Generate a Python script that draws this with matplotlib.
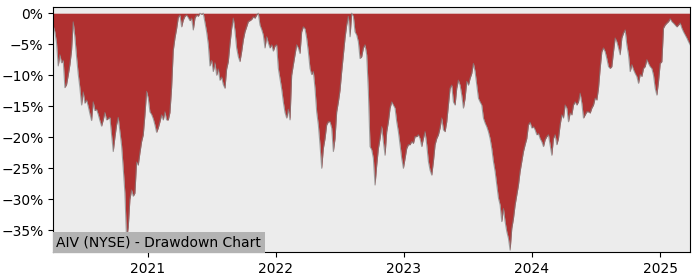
import numpy as np
import pandas as pd
import matplotlib
matplotlib.use("Agg")
import matplotlib.pyplot as plt
import matplotlib.dates as mdates
from matplotlib.ticker import FuncFormatter

# drawdown in percent (roughly every 4-5 days)
start_date = "2020-04-07"
end_date = "2025-03-28"
drawdown = [
    -2.0, -3.0, -4.8, -8.5, -6.7, -8.0, -7.6, -12.0, -11.5, -10.0,
    -8.3, -6.0, -1.4, -3.8, -7.0, -9.8, -12.0, -14.8, -12.7, -14.5,
    -14.0, -15.0, -16.2, -17.3, -14.3, -15.7, -15.5, -16.3, -17.3, -18.2,
    -17.2, -16.0, -17.2, -17.0, -16.8, -19.6, -22.3, -20.0, -18.0, -16.8,
    -19.1, -21.3, -25.0, -29.0, -36.5, -34.5,
    # 2020-11 -> 2021-06
    -30.0, -28.5, -29.5, -29.0, -24.0, -24.5, -22.5, -20.7, -19.6, -16.4,
    -12.6, -13.7, -15.9, -16.3, -17.0, -18.0, -19.2, -18.5, -17.5, -16.4,
    -17.2, -15.9, -17.2, -17.2, -16.0, -12.0, -6.0, -4.0, -2.5, -0.7,
    -0.3, -2.2, -1.1, -0.5, -0.3, -0.7, -1.2, -0.8, -2.7, -0.8,
    -0.3, -0.5, 0.0, -0.2, 0.0, -1.5, -3.0, -5.0,
    # 2021-06 -> 2022-01
    -8.5, -7.6, -9.4, -8.0, -10.0, -9.0, -10.8, -10.3, -11.5, -12.1,
    -9.0, -7.8, -5.0, -2.5, -0.8, -2.8, -5.6, -7.0, -7.8, -6.2,
    -4.3, -3.0, -2.2, -1.35, -1.2, -1.0, -0.6, -0.8, -0.3, 0.0,
    -1.9, -2.6, -3.5, -5.6, -3.8, -4.8, -5.6, -5.1, -6.1, -5.3,
    -5.1, -8.9, -10.5, -12.2, -14.3, -16.0, -16.9, -15.5,
    # 2022-02 -> 2022-08
    -17.2, -10.0, -8.3, -6.7, -5.1, -5.6, -6.5, -3.0, -2.2, -2.5,
    -4.0, -6.2, -8.9, -9.9, -9.4, -12.1, -15.9, -18.0, -21.2, -25.0,
    -21.8, -20.2, -18.0, -17.5, -17.5, -18.5, -22.3, -20.2, -15.9, -14.3,
    -12.4, -9.4, -6.7, -4.0, -1.9, -0.5, -3.8, 0.0, -0.5, -3.0,
    -3.5, -4.6, -7.3, -7.0, -5.6, -5.1, -6.7, -12.6,
    # 2022-09 -> 2023-04
    -21.5, -22.0, -23.4, -27.7, -24.5, -21.8, -20.2, -18.3, -20.7, -22.9,
    -19.1, -17.5, -15.3, -14.3, -14.8, -15.3, -17.5, -19.1, -21.2, -23.4,
    -25.0, -23.4, -21.8, -21.2, -21.2, -20.7, -21.0, -19.9, -19.9, -19.6,
    -20.2, -21.5, -20.2, -19.1, -21.2, -23.9, -25.3, -26.1, -23.9, -21.2,
    -20.2, -19.6, -18.5, -16.9, -18.8, -19.1, -17.5, -14.8,
    # 2023-04 -> 2023-11
    -12.1, -11.6, -14.3, -14.8, -12.1, -10.8, -11.6, -13.2, -15.3, -13.7,
    -11.0, -11.6, -10.5, -9.7, -8.1, -9.4, -11.6, -13.7, -14.3, -14.8,
    -16.9, -17.7, -18.3, -19.1, -20.2, -21.8, -23.9, -25.5, -27.7, -29.8,
    -30.9, -33.6, -31.5, -33.6, -35.2, -36.3, -38.2, -34.7, -33.1, -30.9,
    -29.3, -27.7, -25.5, -23.9, -22.3, -21.2, -20.2, -18.0,
    # 2023-12 -> 2024-07
    -17.6, -18.5, -18.3, -18.8, -19.6, -19.4, -20.2, -20.7, -21.5, -20.4,
    -19.9, -19.6, -21.2, -22.9, -20.2, -19.6, -21.2, -20.2, -18.0, -16.4,
    -16.9, -14.8, -15.3, -17.5, -16.1, -16.4, -14.8, -14.3, -14.8, -14.3,
    -12.9, -14.5, -16.9, -16.4, -15.9, -15.9, -16.1, -15.3, -14.8, -13.7,
    -14.0, -12.1, -8.9, -6.2, -5.6, -6.2, -7.3, -8.6,
    # 2024-08 -> 2025-03
    -8.9, -8.6, -6.2, -4.0, -4.6, -5.6, -6.7, -4.0, -3.2, -2.7,
    -5.1, -6.7, -9.4, -8.3, -9.1, -9.7, -10.2, -11.3, -9.9, -10.2,
    -8.9, -8.6, -7.5, -8.1, -8.6, -8.9, -10.0, -12.1, -13.2, -11.0,
    -8.1, -7.8, -2.4, -1.9, -1.6, -1.35, -0.9, -1.35, -1.6, -1.9,
    -2.2, -1.9, -1.6, -2.4, -3.0, -3.5, -4.0, -4.6, -5.1,
]
yticks = [0, -5, -10, -15, -20, -25, -30, -35]
title = "AIV (NYSE) - Drawdown Chart"

dates = pd.date_range(start_date, end_date, periods=len(drawdown))
dd = np.array(drawdown)

fig = plt.figure(figsize=(7, 2.8), dpi=100)
ax = fig.add_axes([0.076, 0.1, 0.91, 0.875])
ax.set_facecolor("#ececec")

ax.fill_between(dates, dd, 0, color="#b03030", linewidth=0)
ax.plot(dates, dd, color="grey", linewidth=0.8, alpha=0.7)

ax.set_xlim(dates[0], dates[-1])
ax.set_ylim(-38.5, 1.0)
ax.set_yticks(yticks)
ax.yaxis.set_major_formatter(FuncFormatter(lambda v, p: f"{v:.0f}%".replace("-", "\u2212")))
ax.xaxis.set_major_locator(mdates.YearLocator())
ax.xaxis.set_major_formatter(mdates.DateFormatter("%Y"))
ax.tick_params(labelsize=10)

ax.text(0.005, 0.012, title, transform=ax.transAxes, fontsize=10,
        ha="left", va="bottom",
        bbox=dict(boxstyle="square,pad=0.25", facecolor="#b3b3b3", edgecolor="none"))

fig.savefig("out.png", dpi=100)
